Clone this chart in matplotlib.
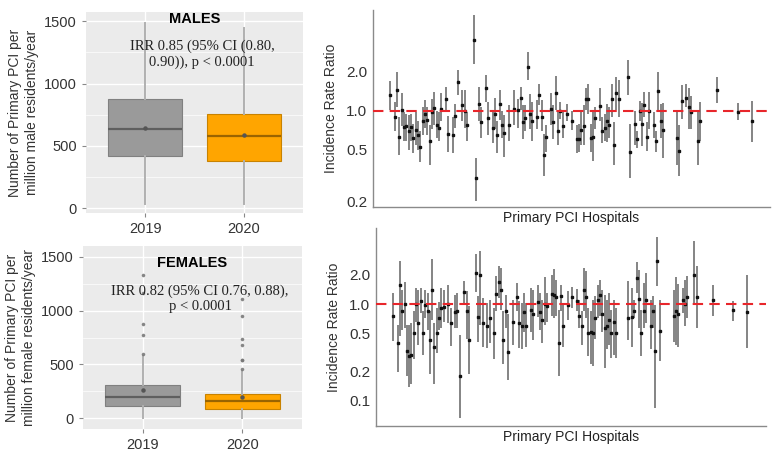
import matplotlib
matplotlib.use("Agg")
import matplotlib.pyplot as plt
import numpy as np

plt.rcParams['font.family'] = ['Liberation Sans', 'DejaVu Sans']

# ---- box plot summaries (per million residents/year) ----
years = ["2019", "2020"]

male_q1 = [414, 379]
male_med = [635, 580]
male_q3 = [876, 755]
male_lo = [30, 30]
male_hi = [1490, 1450]
male_mean = [640, 585]

fem_q1 = [116, 88]
fem_med = [197, 156]
fem_q3 = [309, 225]
fem_lo = [0, 0]
fem_hi = [578, 438]
fem_mean = [266, 194]
fem_out_2019 = [600, 770, 880, 1160, 1330]
fem_out_2020 = [460, 540, 545, 680, 740, 950, 1110]

# ---- hospital IRRs, males ----
m_idx = [0, 2, 3, 4, 5, 6, 7, 8, 9, 10,
         11, 12, 13, 14, 15, 16, 17, 18, 19, 20,
         21, 22, 24, 25, 27, 28, 29, 31, 32, 33,
         36, 37, 38, 39, 41, 42, 44, 45, 46, 47,
         48, 49, 51, 53, 55, 56, 57, 58, 59, 60,
         61, 63, 64, 65, 66, 67, 69, 70, 71, 72,
         73, 74, 76, 78, 80, 81, 82, 83, 84, 85,
         86, 87, 88, 90, 91, 92, 93, 94, 95, 96,
         97, 98, 102, 103, 105, 106, 107, 108, 109, 110,
         111, 113, 114, 115, 116, 117, 123, 124, 125, 127,
         128, 129, 132, 133, 140, 149, 155]
m_irr = [1.32, 0.90, 1.44, 0.63, 1.01, 0.75, 0.76, 0.69, 0.75, 0.61,
         0.71, 0.65, 0.52, 0.83, 0.94, 0.84, 0.58, 0.97, 1.05, 0.78,
         0.74, 1.03, 1.22, 0.66, 0.65, 0.91, 1.65, 1.10, 1.00, 0.77,
         3.53, 0.30, 1.12, 0.81, 1.50, 0.87, 0.74, 0.94, 0.65, 1.12,
         0.78, 0.67, 0.78, 1.03, 1.01, 1.25, 0.82, 0.87, 2.18, 0.94,
         0.83, 0.90, 1.32, 0.90, 0.45, 0.62, 1.03, 0.81, 1.37, 0.70,
         1.00, 0.76, 0.94, 0.83, 0.60, 0.60, 0.71, 0.76, 1.22, 1.22,
         0.61, 0.63, 0.87, 1.09, 0.70, 0.74, 0.83, 0.78, 1.22, 0.54,
         1.37, 1.22, 1.81, 0.48, 0.79, 0.60, 1.00, 0.79, 1.11, 0.63,
         1.00, 0.77, 0.58, 1.42, 0.83, 0.71, 0.61, 0.49, 1.18, 1.26,
         1.06, 0.97, 0.58, 0.83, 1.44, 0.97, 0.83]
m_low = [1.01, 0.69, 1.06, 0.45, 0.76, 0.58, 0.58, 0.50, 0.58, 0.47,
         0.54, 0.50, 0.40, 0.65, 0.74, 0.65, 0.38, 0.72, 0.78, 0.61,
         0.58, 0.83, 0.97, 0.48, 0.47, 0.74, 1.32, 0.83, 0.74, 0.58,
         2.28, 0.20, 0.83, 0.61, 1.16, 0.65, 0.56, 0.72, 0.47, 0.84,
         0.61, 0.44, 0.58, 0.78, 0.74, 1.01, 0.60, 0.69, 1.73, 0.72,
         0.58, 0.72, 1.11, 0.69, 0.31, 0.48, 0.78, 0.60, 1.01, 0.54,
         0.86, 0.61, 0.83, 0.71, 0.47, 0.48, 0.54, 0.54, 1.01, 0.95,
         0.48, 0.41, 0.72, 0.83, 0.56, 0.58, 0.57, 0.61, 0.90, 0.38,
         1.01, 0.89, 1.32, 0.30, 0.54, 0.51, 0.83, 0.53, 0.89, 0.49,
         0.72, 0.61, 0.48, 1.01, 0.61, 0.43, 0.38, 0.31, 0.86, 1.06,
         0.72, 0.72, 0.38, 0.58, 1.14, 0.84, 0.57]
m_up = [1.70, 1.16, 1.98, 0.89, 1.37, 0.97, 0.95, 0.92, 0.94, 0.79,
        0.97, 0.83, 0.69, 1.06, 1.20, 1.06, 0.78, 1.24, 1.40, 1.00,
        0.97, 1.36, 1.51, 0.91, 0.90, 1.13, 2.05, 1.44, 1.44, 0.97,
        5.44, 0.43, 1.51, 1.06, 1.90, 1.16, 0.97, 1.25, 0.83, 1.44,
        1.00, 0.92, 1.10, 1.44, 1.24, 1.53, 1.10, 1.10, 2.85, 1.34,
        1.16, 1.20, 1.61, 1.20, 0.66, 0.78, 1.36, 1.10, 1.84, 0.97,
        1.16, 1.00, 1.13, 1.00, 0.78, 0.79, 0.97, 1.10, 1.49, 1.61,
        0.79, 0.97, 1.06, 1.50, 0.89, 0.94, 1.13, 1.06, 1.61, 0.81,
        1.81, 1.73, 2.46, 0.79, 1.00, 0.69, 1.18, 1.14, 1.40, 0.81,
        1.40, 0.97, 0.69, 2.00, 1.12, 1.14, 1.00, 0.78, 1.58, 1.61,
        1.49, 1.29, 0.97, 1.16, 1.82, 1.14, 1.18]

# ---- hospital IRRs, females ----
f_idx = [0, 2, 3, 4, 5, 6, 7, 8, 9, 10,
         11, 12, 13, 14, 15, 16, 17, 18, 19, 20,
         21, 22, 24, 25, 27, 28, 29, 31, 32, 33,
         36, 37, 38, 39, 41, 42, 44, 45, 46, 47,
         48, 49, 50, 52, 54, 55, 56, 57, 58, 60,
         61, 63, 64, 65, 66, 67, 69, 70, 71, 72,
         73, 74, 76, 78, 80, 81, 82, 83, 84, 85,
         86, 87, 88, 89, 90, 91, 92, 93, 94, 95,
         96, 97, 102, 104, 105, 106, 107, 108, 109, 110,
         112, 113, 114, 115, 116, 122, 123, 124, 126, 127,
         128, 131, 132, 139, 148, 154]
f_irr = [0.75, 0.40, 1.56, 0.84, 1.00, 0.33, 0.29, 0.30, 0.50, 1.00,
         0.64, 1.08, 0.50, 0.97, 0.84, 0.43, 1.41, 0.36, 0.50, 0.72,
         0.91, 0.93, 1.00, 0.64, 0.83, 0.85, 0.18, 1.33, 0.84, 0.43,
         2.09, 0.73, 2.01, 0.64, 0.59, 0.72, 0.50, 1.27, 1.68, 1.41,
         0.43, 0.84, 0.32, 0.65, 1.17, 0.63, 0.60, 0.82, 0.60, 0.87,
         0.79, 1.05, 0.82, 0.69, 1.00, 0.95, 1.27, 1.25, 1.17, 0.40,
         1.20, 0.60, 0.97, 1.17, 1.08, 0.75, 0.60, 1.41, 1.17, 0.50,
         0.52, 0.50, 0.72, 1.11, 1.23, 0.79, 0.57, 0.60, 0.69, 0.50,
         0.66, 0.50, 0.72, 0.73, 0.84, 1.86, 1.14, 0.50, 0.85, 1.11,
         0.60, 0.85, 0.33, 2.76, 0.53, 0.76, 0.85, 0.78, 1.11, 1.00,
         1.17, 2.01, 1.17, 1.11, 0.86, 0.83]
f_low = [0.42, 0.20, 0.47, 0.54, 0.56, 0.18, 0.14, 0.15, 0.27, 0.66,
         0.38, 0.81, 0.30, 0.72, 0.54, 0.19, 0.69, 0.15, 0.31, 0.54,
         0.56, 0.66, 0.64, 0.37, 0.56, 0.56, 0.067, 0.98, 0.44, 0.19,
         1.33, 0.41, 0.61, 0.36, 0.35, 0.40, 0.27, 0.84, 1.15, 0.87,
         0.24, 0.56, 0.165, 0.38, 0.84, 0.35, 0.34, 0.51, 0.36, 0.52,
         0.43, 0.73, 0.54, 0.40, 0.61, 0.66, 0.75, 0.72, 0.76, 0.18,
         0.84, 0.36, 0.69, 0.91, 0.84, 0.56, 0.38, 0.84, 0.72, 0.29,
         0.24, 0.23, 0.44, 0.72, 0.75, 0.52, 0.22, 0.34, 0.38, 0.28,
         0.30, 0.28, 0.43, 0.36, 0.72, 1.30, 0.56, 0.29, 0.56, 0.64,
         0.34, 0.56, 0.084, 1.52, 0.26, 0.41, 0.38, 0.36, 0.81, 0.59,
         0.71, 0.98, 0.56, 0.76, 0.67, 0.35]
f_up = [1.30, 0.61, 2.81, 1.41, 1.69, 0.61, 0.61, 0.64, 0.84, 1.46,
        1.41, 1.46, 0.84, 1.41, 1.30, 0.84, 2.94, 0.64, 0.91, 1.05,
        1.46, 1.41, 1.56, 0.91, 1.25, 1.30, 0.48, 1.71, 1.35, 0.95,
        3.29, 1.20, 3.50, 1.15, 1.02, 1.11, 0.91, 1.93, 2.45, 2.36,
        0.84, 1.25, 0.78, 1.11, 1.65, 1.07, 1.02, 1.30, 1.02, 1.46,
        1.41, 1.56, 1.30, 1.11, 1.89, 1.30, 2.01, 2.32, 1.79, 0.87,
        1.58, 0.98, 1.35, 1.49, 1.44, 1.11, 0.84, 2.36, 2.18, 0.91,
        0.84, 1.11, 1.20, 1.58, 1.79, 1.41, 1.25, 1.11, 1.30, 0.87,
        1.11, 0.91, 1.71, 1.46, 1.11, 2.72, 2.26, 0.87, 1.65, 2.09,
        1.11, 1.20, 0.98, 4.90, 1.11, 1.41, 1.89, 1.61, 1.46, 1.79,
        1.93, 4.52, 2.45, 1.58, 1.08, 1.98]

box_fill = ["#9a9a9a", "#ffa500"]
box_edge = ["#808080", "#c88200"]


def box_panel(ax, q1, med, q3, lo, hi, mean, fliers, ylabel, title, note, ylim,
              title_y, note_y):
    ax.set_facecolor("#ebebeb")
    stats = []
    for i in range(2):
        stats.append(dict(q1=q1[i], med=med[i], q3=q3[i], whislo=lo[i],
                          whishi=hi[i], mean=mean[i], fliers=fliers[i]))
    bp = ax.bxp(stats, positions=[1, 2], widths=0.75, patch_artist=True,
                showmeans=True, showcaps=False, zorder=3,
                meanprops=dict(marker="o", markersize=2.2, markerfacecolor="#555555",
                               markeredgecolor="#555555"),
                flierprops=dict(marker="o", markersize=1.6, markerfacecolor="#777777",
                                markeredgecolor="#777777", alpha=0.8),
                whiskerprops=dict(color="#b0b0b0", linewidth=1.4))
    for i, p in enumerate(bp["boxes"]):
        p.set_facecolor(box_fill[i])
        p.set_edgecolor(box_edge[i])
        p.set_linewidth(0.8)
    bp["medians"][0].set_color("#5f5f5f")
    bp["medians"][1].set_color("#9a6400")
    for m in bp["medians"]:
        m.set_linewidth(1.6)
    ax.set_xlim(0.4, 2.6)
    ax.set_ylim(*ylim)
    ax.set_yticks([0, 500, 1000, 1500])
    ax.set_yticks([250, 750, 1250], minor=True)
    ax.set_xticks([1, 2])
    ax.set_xticklabels(years)
    ax.grid(True, which="major", color="white", linewidth=1.0, zorder=0)
    ax.grid(True, which="minor", axis="y", color="white", linewidth=0.5, zorder=0)
    ax.set_axisbelow(True)
    for s in ax.spines.values():
        s.set_visible(False)
    ax.tick_params(axis="both", which="major", labelsize=10.5, colors="#888888",
                   labelcolor="#333333", length=3)
    ax.tick_params(axis="y", which="minor", length=0)
    ax.set_ylabel(ylabel, fontsize=10, color="#333333", labelpad=4)
    ax.text(0.5, title_y, title, transform=ax.transAxes, ha="center", va="top",
            fontsize=10.5, fontweight="bold", color="black")
    ax.text(0.535, note_y, note, transform=ax.transAxes, ha="center", va="top",
            fontsize=10.5, family=["Liberation Serif", "DejaVu Serif"],
            color="#222222", linespacing=1.25)


def irr_panel(ax, idx, irr, low, up, xlim, ylim, yticks):
    irr = np.array(irr)
    err = [irr - np.array(low), np.array(up) - irr]
    ax.errorbar(idx, irr, yerr=err, fmt="s", markersize=1.5, color="#111111",
                ecolor="#707070", elinewidth=1.2, capsize=0, zorder=3)
    ax.axhline(1.0, color="#e8262b", linestyle=(0, (5, 3)), linewidth=1.5, zorder=4)
    ax.set_yscale("log")
    ax.set_xlim(*xlim)
    ax.set_ylim(*ylim)
    ax.set_yticks(yticks)
    ax.set_yticklabels(["%.1f" % t for t in yticks])
    ax.minorticks_off()
    ax.set_xticks([])
    ax.tick_params(axis="y", length=0, labelsize=11, labelcolor="#333333", pad=4)
    for s in ["top", "right"]:
        ax.spines[s].set_visible(False)
    for s in ["left", "bottom"]:
        ax.spines[s].set_color("#8a8a8a")
        ax.spines[s].set_linewidth(1.0)
    ax.set_ylabel("Incidence Rate Ratio", fontsize=10, color="#333333", labelpad=6)
    ax.set_xlabel("Primary PCI Hospitals", fontsize=10, color="#222222", labelpad=3)


fig = plt.figure(figsize=(7.84, 4.55), dpi=100)

ax1 = fig.add_axes([0.1097, 0.5319, 0.2768, 0.4418])
box_panel(ax1, male_q1, male_med, male_q3, male_lo, male_hi, male_mean, [[], []],
          "Number of Primary PCI per\nmillion male residents/year", "MALES",
          "IRR 0.85 (95% CI (0.80,\n0.90)), p < 0.0001", (-40, 1575), 1.0, 0.862)

ax2 = fig.add_axes([0.1059, 0.0571, 0.2793, 0.4022])
box_panel(ax2, fem_q1, fem_med, fem_q3, fem_lo, fem_hi, fem_mean,
          [fem_out_2019, fem_out_2020],
          "Number of Primary PCI per\nmillion female residents/year", "FEMALES",
          "IRR 0.82 (95% CI 0.76, 0.88),\np < 0.0001", (-100, 1600), 0.945, 0.79)

ax3 = fig.add_axes([0.4758, 0.5451, 0.5064, 0.433])
irr_panel(ax3, m_idx, m_irr, m_low, m_up, (-7.3, 162.9), (0.18, 6.0), [0.2, 0.5, 1.0, 2.0])

ax4 = fig.add_axes([0.4796, 0.0637, 0.4974, 0.4352])
irr_panel(ax4, f_idx, f_irr, f_low, f_up, (-7.4, 162.2), (0.055, 6.1), [0.1, 0.2, 0.5, 1.0, 2.0])

fig.savefig("out.png", dpi=100)
